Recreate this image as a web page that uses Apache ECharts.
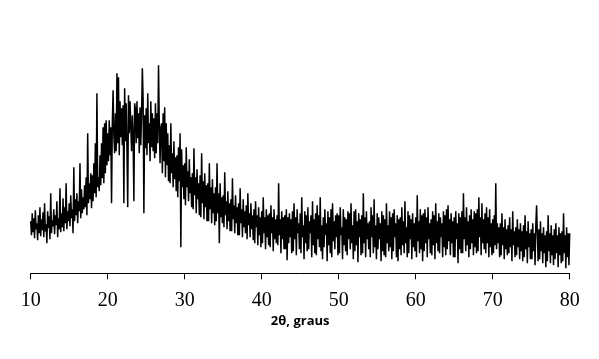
<!DOCTYPE html>
<html><head><meta charset="utf-8">
<script src="https://cdn.jsdelivr.net/npm/echarts@6/dist/echarts.min.js"></script>
<style>html,body{margin:0;padding:0;background:#fff}#c{width:599px;height:359px}</style>
</head><body><div id="c"></div>
<script>
// 2θ grid: start at 10°, step 0.1°
var twoThetaStart = 10;
var twoThetaStep = 0.1;
var xTicks = [10, 20, 30, 40, 50, 60, 70, 80];
// Intensity (arbitrary units), one row per degree (x.0 … x.9)
var intensity = [
52,38,60,41,55,35,63,44,50,33,
58,40,66,37,54,43,61,36,70,42,
49,30,62,45,57,34,80,40,53,47,
64,39,58,48,72,36,55,44,85,41,
60,46,75,42,66,50,90,44,62,52,
70,47,78,55,64,40,106,52,74,58,
80,50,72,62,110,55,84,60,76,64,
88,66,96,58,140,70,90,74,100,65,
98,72,110,80,130,76,180,86,96,82,
118,88,130,95,146,90,150,100,153,108,
140,112,153,118,146,70,150,183,138,120,
160,122,200,130,196,118,172,136,165,128,
168,70,185,132,170,124,66,178,140,172,
170,122,158,138,72,170,164,130,172,135,
160,120,166,128,158,205,174,60,158,125,
165,118,180,130,150,112,172,126,160,122,
155,115,170,120,160,130,208,150,110,145,
150,100,160,112,166,96,150,108,140,92,
128,90,150,100,120,86,132,94,116,82,
118,76,126,92,140,26,124,86,108,74,
110,68,126,86,102,72,114,80,96,66,
100,64,125,78,96,60,104,74,90,58,
98,56,120,70,92,54,100,66,88,52,
90,52,110,64,86,50,94,60,80,48,
86,52,110,60,80,30,90,56,76,50,
78,46,101,58,72,44,82,52,70,42,
74,42,95,54,68,40,78,50,66,38,
70,38,85,50,64,36,74,46,62,40,
68,34,80,48,60,36,70,44,58,33,
64,30,72,46,58,28,66,38,56,26,
62,30,76,40,56,24,64,36,58,28,
60,26,68,40,56,22,64,34,54,30,
58,28,90,38,54,20,62,34,56,24,
58,24,64,13,56,30,60,36,54,20,
62,22,70,34,56,18,64,40,50,24,
60,20,76,36,48,14,62,30,58,22,
66,24,52,40,58,16,72,28,54,20,
60,18,68,34,58,26,76,22,48,14,
56,26,64,38,50,12,62,28,56,20,
64,16,70,32,52,24,58,36,60,18,
58,20,66,38,46,14,64,28,56,22,
54,18,62,34,60,24,70,30,48,14,
62,22,64,28,52,11,60,36,54,18,
58,20,80,30,56,16,62,34,50,24,
52,16,66,36,58,20,74,26,48,14,
60,24,56,34,50,12,62,22,58,18,
54,16,70,30,48,22,62,26,56,14,
60,22,64,36,50,16,58,12,54,24,
56,18,66,28,52,20,72,30,46,16,
62,20,58,34,54,14,60,26,50,22,
56,16,78,32,52,20,64,24,58,12,
60,22,64,30,56,16,66,34,50,20,
54,18,62,28,58,14,70,30,52,22,
60,20,56,36,50,16,62,26,58,18,
64,24,68,32,54,18,60,30,52,16,
56,16,62,34,50,10,60,24,56,20,
62,20,80,34,56,22,66,28,52,16,
58,24,64,30,54,18,62,26,60,20,
64,22,76,36,56,18,70,30,54,24,
60,20,66,30,56,16,64,26,50,18,
54,20,58,28,90,24,50,30,46,16,
50,18,60,28,46,14,54,24,44,18,
48,20,56,26,44,12,62,28,42,16,
46,18,54,26,44,14,50,22,42,12,
48,16,58,24,42,10,52,26,40,14,
44,14,50,22,40,8,48,68,38,12,
44,14,52,22,40,10,46,20,38,6,
42,12,58,22,40,10,48,18,38,8,
44,14,50,20,38,6,46,18,40,10,
42,12,60,20,38,5,46,16,40,8,
40
];

var points = intensity.map(function (v, i) {
  return [Math.round((twoThetaStart + i * twoThetaStep) * 10) / 10, v];
});

var chart = echarts.init(document.getElementById('c'), null, {renderer: 'canvas'});
chart.setOption({
  animation: false,
  backgroundColor: '#ffffff',
  grid: {left: 30.7, right: 29.3, top: 53.3, bottom: 85.7, containLabel: false},
  xAxis: {
    type: 'value', min: xTicks[0], max: xTicks[xTicks.length - 1], interval: 10,
    name: '2θ, graus', nameLocation: 'middle', nameGap: 41,
    nameTextStyle: {fontFamily: 'Open Sans', fontWeight: 'bold', fontSize: 13, color: '#000'},
    axisLine: {show: true, onZero: false, lineStyle: {color: '#000', width: 1}},
    axisTick: {show: true, inside: false, length: 6, lineStyle: {color: '#000', width: 1}},
    axisLabel: {fontFamily: 'Liberation Serif', fontSize: 20, color: '#000', margin: 17},
    splitLine: {show: false}
  },
  yAxis: {type: 'value', min: 0, max: 220, show: false},
  series: [{
    type: 'line', data: points, symbol: 'none', silent: true,
    lineStyle: {color: '#000', width: 1.5, join: 'bevel'}
  }]
});
</script>
</body></html>
